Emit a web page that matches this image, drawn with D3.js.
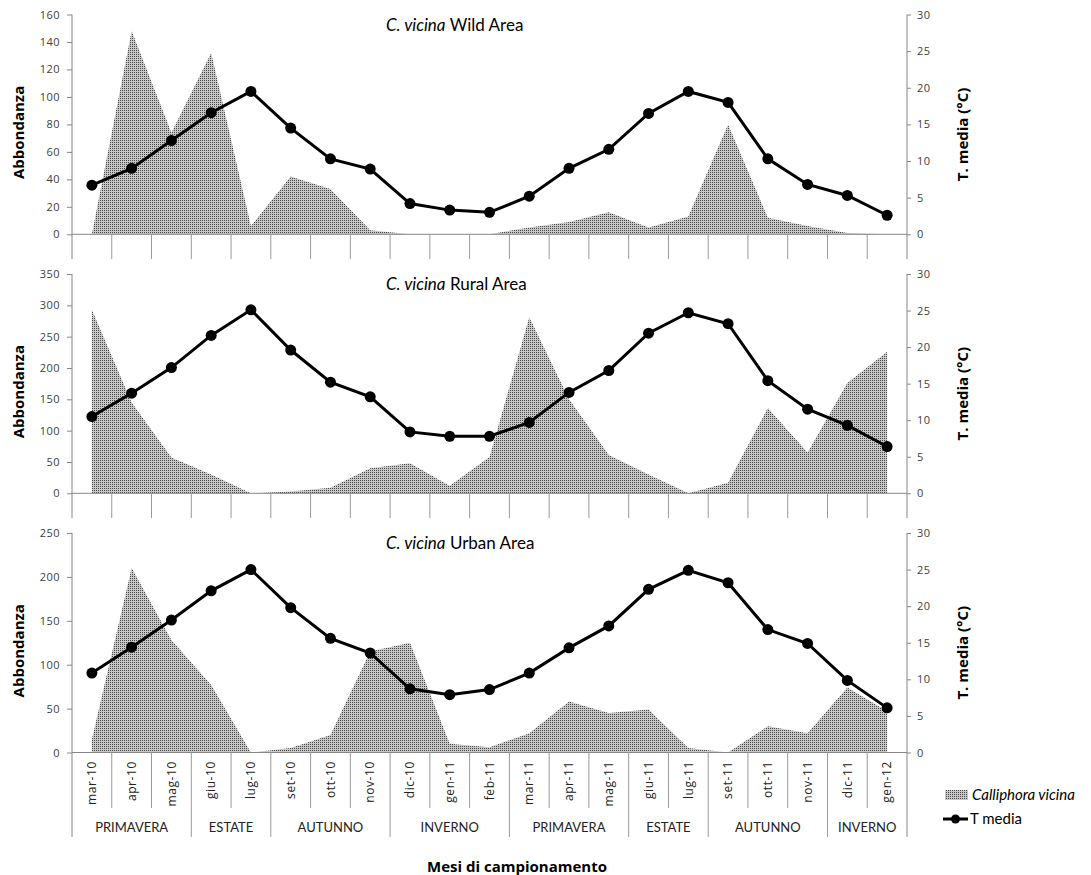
<!DOCTYPE html>
<html>
<head>
<meta charset="utf-8">
<script src="https://cdn.jsdelivr.net/npm/d3@7"></script>
<style>
  body { margin: 0; background: #fff; }
  svg { display: block; }
  .tick text { font-family: "Open Sans", sans-serif; font-size: 11px; fill: #404040; letter-spacing: 0.5px; }
  .tick line { stroke: #868686; }
</style>
</head>
<body>
<div id="chart"></div>
<script>
var months = ["mar-10","apr-10","mag-10","giu-10","lug-10","set-10","ott-10","nov-10","dic-10","gen-11","feb-11",
              "mar-11","apr-11","mag-11","giu-11","lug-11","set-11","ott-11","nov-11","dic-11","gen-12"];
var seasonNames = ["PRIMAVERA","ESTATE","AUTUNNO","INVERNO","PRIMAVERA","ESTATE","AUTUNNO","INVERNO"];
var seasonSpans = [3, 2, 3, 3, 3, 2, 3, 2];

// abbondanza (left axis) and T media (right axis)
var wildAbund  = [0,148,74,132,6,42,33,3,0,0,0,5,9,16,5,13,80,12,6,1,0];
var wildTemp   = [6.7,9.0,12.8,16.6,19.5,14.5,10.3,8.9,4.2,3.3,3.0,5.2,9.0,11.6,16.5,19.5,18.0,10.3,6.8,5.3,2.6];
var ruralAbund = [293,145,57,30,0,3,9,40,48,12,58,281,150,61,30,0,17,136,65,176,226];
var ruralTemp  = [10.5,13.7,17.2,21.6,25.1,19.6,15.2,13.2,8.4,7.8,7.8,9.7,13.8,16.8,21.9,24.7,23.2,15.4,11.5,9.3,6.4];
var urbanAbund = [15,210,128,77,0,5,20,115,125,10,6,22,58,45,49,5,0,30,22,74,47];
var urbanTemp  = [10.85,14.4,18.1,22.1,25.0,19.8,15.6,13.6,8.7,7.9,8.6,10.85,14.3,17.3,22.3,24.9,23.2,16.8,14.9,9.85,6.1];

var panelNames = ["Wild Area", "Rural Area", "Urban Area"];
var abundMax = [160, 350, 250];
var abundStep = [20, 50, 50];
var tempTicks = [0, 5, 10, 15, 20, 25, 30];

var width = 1091, height = 875,
    left = 72, right = 907;

var panels = [
  {top: 14.5, bottom: 234.3, tickEnd: 259},
  {top: 274,  bottom: 493.3, tickEnd: 518},
  {top: 533,  bottom: 752.5, tickEnd: 808}
];
var abundData = [wildAbund, ruralAbund, urbanAbund];
var tempData = [wildTemp, ruralTemp, urbanTemp];

var svg = d3.select("#chart").append("svg")
    .attr("width", width)
    .attr("height", height);

var pat = svg.append("defs").append("pattern")
    .attr("id", "stipple")
    .attr("width", 2).attr("height", 2)
    .attr("patternUnits", "userSpaceOnUse");
pat.append("rect").attr("width", 2).attr("height", 2).attr("fill", "#c9c9c9");
pat.append("rect").attr("width", 1).attr("height", 1).attr("fill", "#444");

var xScale = d3.scaleBand().domain(months).range([left, right]);
var bw = xScale.bandwidth();
function cx(i) { return xScale(months[i]) + bw / 2; }

panels.forEach(function(p, k) {
  var g = svg.append("g");
  var yScale = d3.scaleLinear().domain([0, abundMax[k]]).range([p.bottom, p.top]);
  var tScale = d3.scaleLinear().domain([0, 30]).range([p.bottom, p.top]);

  // area
  var area = d3.area()
      .x(function(d, i) { return cx(i); })
      .y0(p.bottom)
      .y1(function(d) { return yScale(d); });
  g.append("path")
      .datum(abundData[k])
      .attr("d", area)
      .attr("fill", "url(#stipple)");

  // left axis
  var yAxis = d3.axisLeft(yScale)
      .tickValues(d3.range(0, abundMax[k] + 1, abundStep[k]))
      .tickSize(5).tickPadding(7).tickSizeOuter(0);
  var ya = g.append("g").attr("transform", "translate(" + left + ",0)").call(yAxis);
  ya.select(".domain").remove();

  // right axis
  var tAxis = d3.axisRight(tScale)
      .tickValues(tempTicks)
      .tickSize(4).tickPadding(6).tickSizeOuter(0);
  var ta = g.append("g").attr("transform", "translate(" + right + ",0)").call(tAxis);
  ta.select(".domain").remove();

  // vertical axis lines
  g.append("line").attr("x1", left).attr("x2", left)
      .attr("y1", p.top).attr("y2", k == 2 ? 837 : p.tickEnd)
      .attr("stroke", "#868686");
  g.append("line").attr("x1", right).attr("x2", right)
      .attr("y1", p.top).attr("y2", k == 2 ? 837 : p.tickEnd)
      .attr("stroke", "#868686");

  // category axis
  g.append("line").attr("x1", left).attr("x2", right)
      .attr("y1", p.bottom).attr("y2", p.bottom)
      .attr("stroke", "#868686");
  g.selectAll(".sep").data(d3.range(1, months.length))
    .enter().append("line")
      .attr("x1", function(i) { return left + i * bw; })
      .attr("x2", function(i) { return left + i * bw; })
      .attr("y1", p.bottom)
      .attr("y2", p.tickEnd)
      .attr("stroke", "#9a9a9a");

  // temperature line
  var line = d3.line()
      .x(function(d, i) { return cx(i); })
      .y(function(d) { return tScale(d); });
  g.append("path")
      .datum(tempData[k])
      .attr("d", line)
      .attr("fill", "none")
      .attr("stroke", "#000")
      .attr("stroke-width", 3);
  g.selectAll(".dot").data(tempData[k])
    .enter().append("circle")
      .attr("cx", function(d, i) { return cx(i); })
      .attr("cy", function(d) { return tScale(d); })
      .attr("r", 5.5)
      .attr("fill", "#000");

  // title
  var title = g.append("text")
      .attr("x", 386)
      .attr("y", p.top + 16)
      .attr("font-family", "Lato, sans-serif")
      .attr("font-size", 17)
      .attr("fill", "#000");
  title.append("tspan").attr("font-style", "italic").text("C. vicina");
  title.append("tspan").text(" " + panelNames[k]);

  // axis titles
  var mid = (p.top + p.bottom) / 2 + 8;
  g.append("text")
      .attr("transform", "translate(19," + mid + ") rotate(-90)")
      .attr("dy", "0.35em")
      .attr("text-anchor", "middle")
      .attr("font-family", "Open Sans, sans-serif")
      .attr("font-weight", 700)
      .attr("font-size", 15)
      .text("Abbondanza");
  g.append("text")
      .attr("transform", "translate(963," + (mid + 2) + ") rotate(-90)")
      .attr("dy", "0.35em")
      .attr("text-anchor", "middle")
      .attr("font-family", "Open Sans, sans-serif")
      .attr("font-weight", 700)
      .attr("font-size", 15)
      .text("T. media (°C)");
});

// month labels on the bottom panel
svg.selectAll(".month").data(months)
  .enter().append("text")
    .attr("transform", function(d) { return "translate(" + (xScale(d) + bw / 2) + ",761) rotate(-90)"; })
    .attr("dy", "0.35em")
    .attr("text-anchor", "end")
    .attr("font-family", "Open Sans, sans-serif")
    .attr("font-size", 12)
    .attr("letter-spacing", 0.6)
    .attr("fill", "#222")
    .text(function(d) { return d; });

// season groups
var start = 0;
seasonNames.forEach(function(s, i) {
  var x0 = left + start * bw, x1 = left + (start + seasonSpans[i]) * bw;
  svg.append("text")
      .attr("x", (x0 + x1) / 2)
      .attr("y", 832)
      .attr("text-anchor", "middle")
      .attr("font-family", "Lato, sans-serif")
      .attr("font-size", 13)
      .attr("fill", "#222")
      .text(s);
  if (start > 0) {
    svg.append("line").attr("x1", x0).attr("x2", x0)
        .attr("y1", 808).attr("y2", 837).attr("stroke", "#9a9a9a");
  }
  start += seasonSpans[i];
});

svg.append("text")
    .attr("x", 517)
    .attr("y", 872)
    .attr("text-anchor", "middle")
    .attr("font-family", "Open Sans, sans-serif")
    .attr("font-weight", 700)
    .attr("font-size", 15)
    .text("Mesi di campionamento");

// legend
var legend = svg.append("g").attr("font-family", "Lato, sans-serif").attr("font-size", 15);
legend.append("rect").attr("x", 945).attr("y", 790).attr("width", 23).attr("height", 10).attr("fill", "url(#stipple)");
legend.append("text").attr("x", 972).attr("y", 800).attr("font-style", "italic").text("Calliphora vicina");
legend.append("line").attr("x1", 943).attr("x2", 968).attr("y1", 819).attr("y2", 819)
    .attr("stroke", "#000").attr("stroke-width", 3);
legend.append("circle").attr("cx", 955.5).attr("cy", 819).attr("r", 4.5).attr("fill", "#000");
legend.append("text").attr("x", 970).attr("y", 824).text("T media");
</script>
</body>
</html>
